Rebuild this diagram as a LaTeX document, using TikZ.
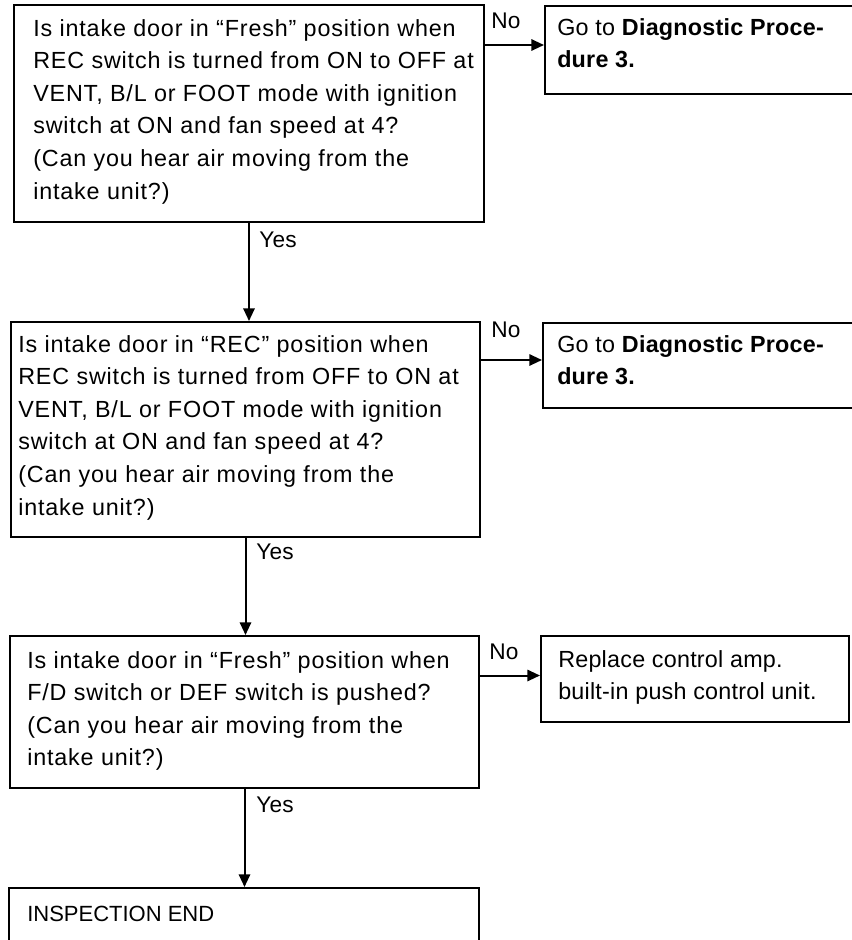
\documentclass[tikz,border=0pt]{standalone}
\usepackage{fontspec}
\setmainfont{Liberation Sans}
\newfontfamily\qfont{Liberation Sans}[LetterSpace=3.6]
\newfontfamily\afont{Liberation Sans}[LetterSpace=1]
\usetikzlibrary{arrows.meta,fit,calc}

% several lines of text whose first baseline is the node's base
\newcommand{\boxlines}[1]{\parbox[t]{380pt}{\raggedright #1}}

\begin{document}
\begin{tikzpicture}[x=0.75pt,y=-0.75pt,
  box/.style={draw, line width=1.5pt, inner sep=0pt, rectangle},
  qtext/.style={anchor=base west, inner sep=0pt,
    font=\qfont\fontsize{17.5pt}{24.45pt}\selectfont},
  atext/.style={anchor=base west, inner sep=0pt,
    font=\afont\fontsize{17.5pt}{24pt}\selectfont},
  tag/.style={anchor=base west, inner sep=0pt,
    font=\afont\fontsize{17pt}{20pt}\selectfont},
  endtext/.style={anchor=base west, inner sep=0pt,
    font=\fontsize{16.5pt}{20pt}\selectfont},
  flow/.style={line width=1.5pt, -{Triangle[length=9.5pt,width=8.5pt]}}]

\useasboundingbox (0,0) rectangle (852,940);

% question boxes (left column)
\node[box, fit={(14,5) (484,222)}] (q1) {};
\node[box, fit={(11,322) (480,537)}] (q2) {};
\node[box, fit={(10,636) (479,788)}] (q3) {};
\node[box, fit={(9,888) (479,962)}] (q4) {};

% answer boxes (right column)
\node[box, fit={(545,6) (862,94)}] (a1) {};
\node[box, fit={(543,323) (862,408)}] (a2) {};
\node[box, fit={(541,636) (849,722)}] (a3) {};

% texts
\node[qtext] (q1t) at (33,36) {\boxlines{Is intake door in “Fresh” position when\\
  REC switch is turned from ON to OFF at\\
  VENT, B/L or FOOT mode with ignition\\
  switch at ON and fan speed at 4?\\
  (Can you hear air moving from the\\
  intake unit?)}};
\node[qtext] (q2t) at (18,352) {\boxlines{Is intake door in “REC” position when\\
  REC switch is turned from OFF to ON at\\
  VENT, B/L or FOOT mode with ignition\\
  switch at ON and fan speed at 4?\\
  (Can you hear air moving from the\\
  intake unit?)}};
\node[qtext] (q3t) at (27,668) {\boxlines{Is intake door in “Fresh” position when\\
  F/D switch or DEF switch is pushed?\\
  (Can you hear air moving from the\\
  intake unit?)}};
\node[endtext] (q4t) at (27,921) {INSPECTION END};

\node[atext] (a1t) at (557,35) {\boxlines{Go to \textbf{Diagnostic Proce-}\\\textbf{dure 3.}}};
\node[atext] (a2t) at (557,352) {\boxlines{Go to \textbf{Diagnostic Proce-}\\\textbf{dure 3.}}};
\node[atext] (a3t) at (558,667) {\boxlines{Replace control amp.\\built-in push control unit.}};

% Yes branches
\draw[flow] (q1.south) -- (q1.south |- q2.north);
\draw[flow] (q2.south) -- (q2.south |- q3.north);
\draw[flow] (q3.south) -- (q3.south |- q4.north);
\node[tag] (y1) at (259,247) {Yes};
\node[tag] (y2) at (256,559) {Yes};
\node[tag] (y3) at (256,812) {Yes};

% No branches
\coordinate (a1in) at ($(a1.west)+(0,-5)$);
\coordinate (a2in) at ($(a2.west)+(0,-5.5)$);
\coordinate (a3in) at ($(a3.west)+(0,-3.5)$);
\draw[flow] (q1.east |- a1in) -- (a1in);
\draw[flow] (q2.east |- a2in) -- (a2in);
\draw[flow] (q3.east |- a3in) -- (a3in);
\node[tag] (n1) at (491,28) {No};
\node[tag] (n2) at (491,337) {No};
\node[tag] (n3) at (489,659) {No};
\end{tikzpicture}
\end{document}
